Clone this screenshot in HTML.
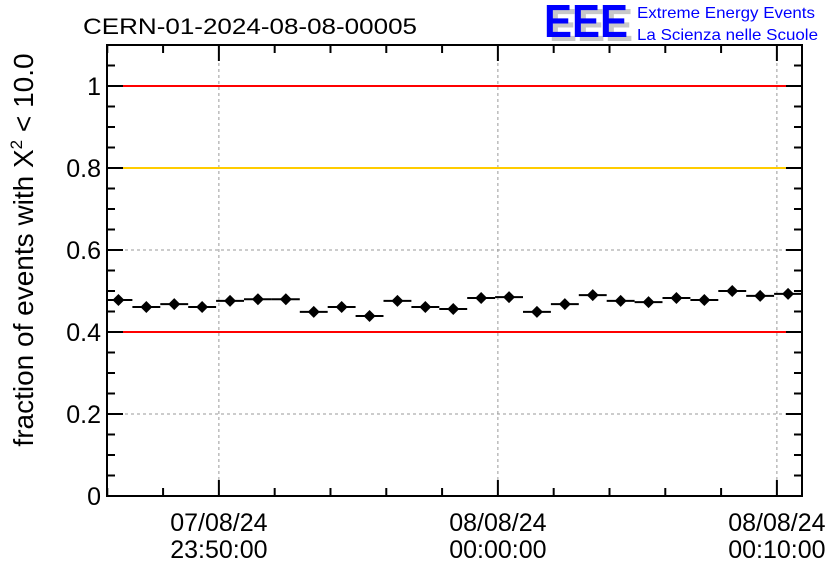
<!DOCTYPE html>
<html><head><meta charset="utf-8"><style>body{margin:0;background:#fff}svg{display:block;font-family:"Liberation Sans",sans-serif}</style></head>
<body>
<svg id="c" width="836" height="572" viewBox="0 0 836 572" xmlns="http://www.w3.org/2000/svg">
<rect width="836" height="572" fill="#fff"/>
<defs><clipPath id="pc"><rect x="107" y="45" width="695" height="451"/></clipPath></defs>
<text x="83" y="34" font-size="22" textLength="334" lengthAdjust="spacingAndGlyphs">CERN-01-2024-08-08-00005</text>
<g>
<text x="549" y="41" font-size="46" font-weight="bold" fill="#c8c8c8" textLength="84" lengthAdjust="spacingAndGlyphs">EEE</text>
<text x="544" y="37" font-size="46" font-weight="bold" fill="#0000ff" textLength="84" lengthAdjust="spacingAndGlyphs">EEE</text>
<text x="637" y="18" font-size="16" fill="#0000ff" textLength="178" lengthAdjust="spacingAndGlyphs">Extreme Energy Events</text>
<text x="637" y="40" font-size="16" fill="#0000ff" textLength="181" lengthAdjust="spacingAndGlyphs">La Scienza nelle Scuole</text>
</g>
<text transform="translate(33,250) rotate(-90)" text-anchor="middle" font-size="28">fraction of events with X<tspan dy="-11" font-size="17">2</tspan><tspan dy="11"> &lt; 10.0</tspan></text>
<g id="plot"></g>
</svg>
<script>
const times = [-13.6,-12.6,-11.6,-10.6,-9.6,-8.6,-7.6,-6.6,-5.6,-4.6,-3.6,-2.6,-1.6,-0.6,0.4,1.4,2.4,3.4,4.4,5.4,6.4,7.4,8.4,9.4,10.4];
const values = [0.478,0.461,0.468,0.461,0.476,0.480,0.480,0.449,0.461,0.439,0.476,0.461,0.456,0.483,0.485,0.449,0.468,0.490,0.476,0.473,0.483,0.478,0.500,0.488,0.493];
const yTicks = [0,0.2,0.4,0.6,0.8,1];
const yTickLabels = ["0","0.2","0.4","0.6","0.8","1"];
const xTicks = [-10,0,10];
const xTickDates = ["07/08/24","08/08/24","08/08/24"];
const xTickTimes = ["23:50:00","00:00:00","00:10:00"];
const refLines = [{v:1,c:"#ff0000"},{v:0.8,c:"#ffcc00"},{v:0.4,c:"#ff0000"}];

const L=107,R=802,T=45,B=496;
const xmin=-14.01,xmax=10.9,ymin=0,ymax=1.1;
const X=t=>L+(t-xmin)/(xmax-xmin)*(R-L);
const Y=v=>B-(v-ymin)/(ymax-ymin)*(B-T);
const g=document.getElementById('plot');
const NS="http://www.w3.org/2000/svg";
function mk(tag,attrs,name,parent){const e=document.createElementNS(NS,tag);for(const k in attrs)e.setAttribute(k,attrs[k]);


(parent||g).appendChild(e);return e;}
const inner=mk('g',{'clip-path':'url(#pc)'},'plot-area');
yTicks.forEach(v=>{if(v>0&&v<1.05)mk('line',{x1:L,x2:R,y1:Y(v),y2:Y(v),stroke:'#999','stroke-dasharray':'3,3','stroke-width':1},'y-grid-line',inner);});
xTicks.forEach(t=>mk('line',{x1:X(t),x2:X(t),y1:T,y2:B,stroke:'#999','stroke-dasharray':'3,3','stroke-width':1},'x-grid-line',inner));
refLines.forEach(r=>mk('line',{x1:L,x2:R,y1:Y(r.v),y2:Y(r.v),stroke:r.c,'stroke-width':2},'reference-line',inner));
times.forEach((t,i)=>{const y=Y(values[i]);
mk('line',{x1:X(t-0.5),x2:X(t+0.5),y1:y,y2:y,stroke:'#000','stroke-width':2},'error-bar',inner);
mk('path',{d:`M${X(t)},${y-6}L${X(t)+6},${y}L${X(t)},${y+6}L${X(t)-6},${y}Z`,fill:'#000'},'data-point',inner);});
mk('rect',{x:L,y:T,width:R-L,height:B-T,fill:'none',stroke:'#000','stroke-width':2},'plot-frame');
for(let k=0;k<=22;k++){const v=k*0.05;const maj=k%4===0;const y=Y(v);
mk('line',{x1:L,x2:L+(maj?16:8),y1:y,y2:y,stroke:'#000','stroke-width':2},'y-tick');
mk('line',{x1:R,x2:R-(maj?16:8),y1:y,y2:y,stroke:'#000','stroke-width':2},'y-tick-right');}
yTicks.forEach((v,i)=>{const e=mk('text',{x:L-6,y:Y(v)+9,'text-anchor':'end','font-size':25},'y-tick-label');e.textContent=yTickLabels[i];});
for(let t=-14;t<=10.9;t+=2){const maj=(t%10===0);
mk('line',{x1:X(t),x2:X(t),y1:B,y2:B-(maj?16:8),stroke:'#000','stroke-width':2},'x-tick');
mk('line',{x1:X(t),x2:X(t),y1:T,y2:T+(maj?16:8),stroke:'#000','stroke-width':2},'x-tick-top');}
xTicks.forEach((t,i)=>{let e=mk('text',{x:X(t),y:531,'text-anchor':'middle','font-size':25},'x-tick-date');e.textContent=xTickDates[i];
e=mk('text',{x:X(t),y:558,'text-anchor':'middle','font-size':25},'x-tick-time');e.textContent=xTickTimes[i];});
</script>
</body></html>
